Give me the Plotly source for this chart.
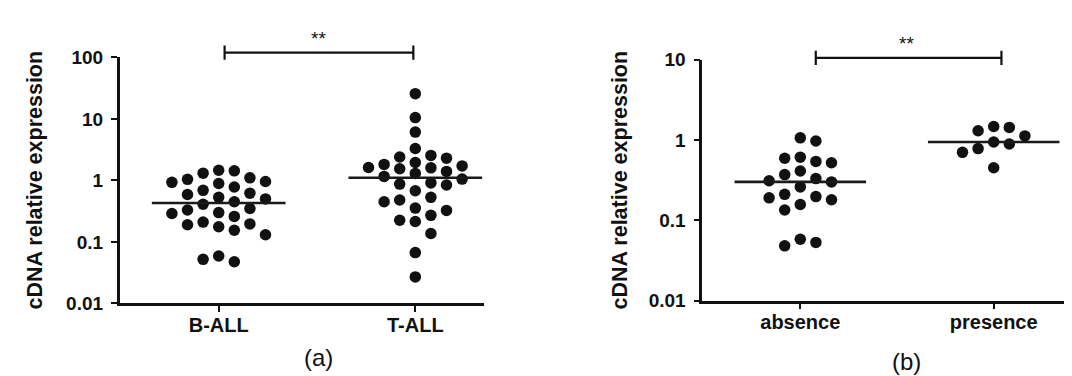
import math
import plotly.graph_objects as go

# ---------------- data ----------------
cats_a = ["B-ALL", "T-ALL"]
b_all = [1.46, 1.31, 1.04, 0.93, 0.96, 1.10, 1.43,
         0.78, 0.62, 0.53, 0.50, 0.59, 0.69, 0.89,
         0.45, 0.35, 0.30, 0.26, 0.29, 0.33, 0.41,
         0.21, 0.19, 0.155, 0.131, 0.176, 0.196,
         0.059, 0.0475, 0.052]
t_all = [25.7, 10.5, 6.1, 3.3, 2.55, 2.4, 2.3, 1.82, 1.62, 1.55, 1.6, 1.72, 1.95,
         1.3, 1.05, 0.87, 0.84, 0.91, 1.16, 1.4, 0.68, 0.45, 0.48, 0.53,
         0.355, 0.325, 0.27, 0.225, 0.215, 0.137, 0.067, 0.027]

cats_b = ["absence", "presence"]
absence = [1.06, 0.97, 0.59, 0.52, 0.54, 0.61, 0.37, 0.30, 0.33, 0.41, 0.26, 0.31,
           0.19, 0.157, 0.21, 0.18, 0.197, 0.134, 0.058, 0.048, 0.053]
presence = [1.43, 1.47, 1.30, 1.12, 0.94, 0.89, 0.78, 0.70, 0.45]

ytick_a = [0.01, 0.1, 1, 10, 100]
ytick_b = [0.01, 0.1, 1, 10]
ytick_text_a = ["0.01", "0.1", "1", "10", "100"]
ytick_text_b = ["0.01", "0.1", "1", "10"]
y_title = "cDNA relative expression"
sig_label = "**"
panel_labels = ["(a)", "(b)"]

# ---------------- layout geometry ----------------
W, H = 1072, 376
FONT = "Liberation Sans, Arial, sans-serif"

# panel a
xa_dom = [111.7 / W, 476.0 / W]
xa_rng = [-0.5036, 1.3494]
ya_dom = [1 - 302.3 / H, 1 - 41.7 / H]
ya_rng = [-2, 2]
# panel b
xb_dom = [694.3 / W, 1.0]
xb_rng = [-0.5067, 1.4462]
yb_dom = [1 - 299.3 / H, 1 - 44.0 / H]
yb_rng = [-2, 1]


def median(v):
    s = sorted(v)
    n = len(s)
    return s[n // 2] if n % 2 else 0.5 * (s[n // 2 - 1] + s[n // 2])


def swarm(values, xdom, xrng, ydom, yrng, step_px=15.6, min_dy=14.0, max_side=3):
    """Column beeswarm (at most 2*max_side+1 columns): returns x offsets in axis units."""
    px_per_unit = (xdom[1] - xdom[0]) * W / (xrng[1] - xrng[0])
    px_per_dec = (ydom[1] - ydom[0]) * H / (yrng[1] - yrng[0])
    order = sorted(range(len(values)), key=lambda i: -values[i])
    placed = {}
    offs = [0.0] * len(values)
    slots = [0]
    for m in range(1, max_side + 1):
        slots += [m, -m]
    for i in order:
        y = math.log10(values[i]) * px_per_dec
        chosen = None
        for m in range(0, max_side + 1):
            cands = [0] if m == 0 else sorted([m, -m], key=lambda k: (len(placed.get(k, [])), -k))
            for k in cands:
                if all(abs(y - yy) >= min_dy for yy in placed.get(k, [])):
                    chosen = k
                    break
            if chosen is not None:
                break
        if chosen is None:  # no free slot: take the least crowded one
            chosen = max(slots, key=lambda k: (min(abs(y - yy) for yy in placed.get(k, [1e9])), -abs(k)))
        placed.setdefault(chosen, []).append(y)
        offs[i] = chosen * step_px / px_per_unit
    return offs


fig = go.Figure()

groups = [
    (b_all, 0, "x", "y", xa_dom, xa_rng, ya_dom, ya_rng),
    (t_all, 1, "x", "y", xa_dom, xa_rng, ya_dom, ya_rng),
    (absence, 0, "x2", "y2", xb_dom, xb_rng, yb_dom, yb_rng),
    (presence, 1, "x2", "y2", xb_dom, xb_rng, yb_dom, yb_rng),
]
HALF = 0.34
for vals, pos, xr, yr, xd, xg, yd, yg in groups:
    offs = swarm(vals, xd, xg, yd, yg)
    fig.add_trace(go.Scatter(
        x=[pos + o for o in offs], y=vals, mode="markers", xaxis=xr, yaxis=yr,
        marker=dict(size=11.5, color="#111111", line=dict(width=0)),
        showlegend=False, cliponaxis=False, hoverinfo="y"))
    med = median(vals)
    fig.add_trace(go.Scatter(
        x=[pos - HALF, pos + HALF], y=[med, med], mode="lines", xaxis=xr, yaxis=yr,
        line=dict(color="#1a1a1a", width=2.6), showlegend=False, hoverinfo="skip",
        cliponaxis=False))

axis_common = dict(showline=True, linecolor="#111111", linewidth=2.6, ticks="outside",
                   ticklen=6, tickwidth=2.2, tickcolor="#111111", showgrid=False,
                   zeroline=False, mirror=False)
tickfont = dict(family=FONT, size=19, color="#111111", weight="bold")
catfont = dict(family=FONT, size=20, color="#111111", weight="bold")

fig.update_layout(
    width=W, height=H, margin=dict(l=0, r=0, t=0, b=0),
    paper_bgcolor="white", plot_bgcolor="white",
    xaxis=dict(domain=xa_dom, range=xa_rng, anchor="y", tickvals=[0, 1], ticktext=cats_a,
               tickfont=catfont, ticklabelstandoff=-4, **axis_common),
    yaxis=dict(domain=ya_dom, range=ya_rng, type="log", anchor="x", tickvals=ytick_a,
               ticktext=ytick_text_a, tickfont=tickfont, ticklabelstandoff=4, **axis_common),
    xaxis2=dict(domain=xb_dom, range=xb_rng, anchor="y2", tickvals=[0, 1], ticktext=cats_b,
                tickfont=catfont, ticklabelstandoff=-4, **axis_common),
    yaxis2=dict(domain=yb_dom, range=yb_rng, type="log", anchor="x2", tickvals=ytick_b,
                ticktext=ytick_text_b, tickfont=tickfont, ticklabelstandoff=4, **axis_common),
)

# axis titles
for xc in (27.0, 612.0):
    fig.add_annotation(x=xc / W, y=1 - 172.0 / H, xref="paper", yref="paper",
                       xanchor="center", yanchor="middle",
                       text=y_title, textangle=-90, showarrow=False,
                       font=dict(family=FONT, size=21.5, color="#111111", weight="bold"))

# panel labels
fig.add_annotation(x=310.0 / W, y=1 - 360.0 / H, xref="paper", yref="paper", text=panel_labels[0],
                   xanchor="center", yanchor="middle",
                   showarrow=False, font=dict(family=FONT, size=24, color="#111111"))
fig.add_annotation(x=898.0 / W, y=1 - 364.0 / H, xref="paper", yref="paper", text=panel_labels[1],
                   xanchor="center", yanchor="middle",
                   showarrow=False, font=dict(family=FONT, size=24, color="#111111"))

# significance brackets
brackets = [
    ("x", 0.03, 0.99, 36.7, 310.0, 22.0),
    ("x2", 0.08, 1.04, 42.3, 898.0, 27.0),
]
for xr, x0, x1, ypx, sx, sy in brackets:
    yb = 1 - ypx / H
    cap = 7.5 / H
    fig.add_shape(type="line", xref=xr, yref="paper", x0=x0, x1=x1, y0=yb, y1=yb,
                  line=dict(color="#111111", width=2.2))
    for xx in (x0, x1):
        fig.add_shape(type="line", xref=xr, yref="paper", x0=xx, x1=xx, y0=yb - cap, y1=yb + cap,
                      line=dict(color="#111111", width=2.2))
    fig.add_annotation(x=sx / W, y=1 - sy / H, xref="paper", yref="paper", text=sig_label,
                       xanchor="center", yanchor="middle",
                       showarrow=False, font=dict(family=FONT, size=19, color="#111111"))

fig.write_html("out.html")
